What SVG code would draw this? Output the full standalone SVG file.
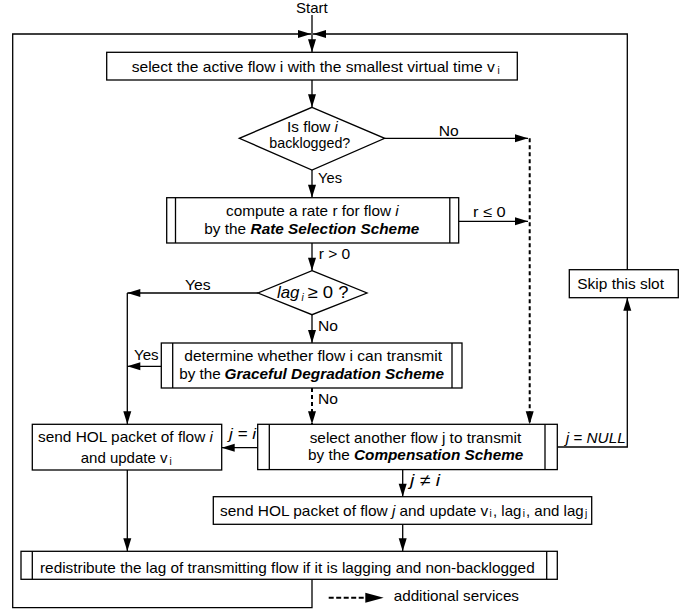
<svg xmlns="http://www.w3.org/2000/svg" width="696" height="610" viewBox="0 0 696 610">
<style>
.t{font-family:"Liberation Sans",Arial,Helvetica,sans-serif;font-size:15px;fill:#000}
.it{font-style:italic}
.bi{font-weight:bold;font-style:italic}
.sub{font-size:10px}
.box{fill:#fff;stroke:#000;stroke-width:1.3}
.ln{fill:none;stroke:#000;stroke-width:1.3}
.dash{fill:none;stroke:#000;stroke-width:2;stroke-dasharray:4 3}
</style>
<defs>
<marker id="ah" markerUnits="userSpaceOnUse" markerWidth="14" markerHeight="9" refX="13" refY="4" orient="auto" overflow="visible">
<path d="M0,0 L13,4 L0,8 z" fill="#000"/>
</marker>
</defs>
<rect width="696" height="610" fill="#fff"/>

<g id="connectors">
<path class="ln" d="M312,579.3 V607.7 H12.7 V34 H311" marker-end="url(#ah)"/>
<path class="ln" d="M627.3,269.7 V34 H313" marker-end="url(#ah)"/>
<path class="ln" d="M312,15 V52.3" marker-end="url(#ah)"/>
<path class="ln" d="M312,80 V107.3" marker-end="url(#ah)"/>
<path class="ln" d="M384.7,138.3 H528" marker-end="url(#ah)"/>
<path class="ln" d="M312,170 V197.7" marker-end="url(#ah)"/>
<path class="ln" d="M458.7,221.3 H528" marker-end="url(#ah)"/>
<path class="ln" d="M312,243 V270.7" marker-end="url(#ah)"/>
<path class="ln" d="M258,293 H127.3" marker-end="url(#ah)"/>
<path class="ln" d="M127.3,293 V424.3" marker-end="url(#ah)"/>
<path class="ln" d="M312,314.7 V343" marker-end="url(#ah)"/>
<path class="ln" d="M161.3,366.3 H127.3" marker-end="url(#ah)"/>
<path class="dash" d="M312,388 V424.3" marker-end="url(#ah)"/>
<path class="dash" d="M529.7,138.3 V424.3" marker-end="url(#ah)"/>
<path class="ln" d="M257.7,447.7 H221.7" marker-end="url(#ah)"/>
<path class="ln" d="M557.3,447 H627.3 V297.7" marker-end="url(#ah)"/>
<path class="ln" d="M402.7,469.3 V496.7" marker-end="url(#ah)"/>
<path class="ln" d="M402.7,524.3 V551.3" marker-end="url(#ah)"/>
<path class="ln" d="M127.3,470 V551.3" marker-end="url(#ah)"/>
<text class="t" x="438.7" y="135.5" textLength="20" lengthAdjust="spacingAndGlyphs">No</text>
<text class="t" x="318" y="183.3" textLength="24" lengthAdjust="spacingAndGlyphs">Yes</text>
<text class="t" x="473" y="217" textLength="32.7" lengthAdjust="spacingAndGlyphs">r ≤ 0</text>
<text class="t" x="318.7" y="259" textLength="31.6" lengthAdjust="spacingAndGlyphs">r &gt; 0</text>
<text class="t" x="185" y="290" textLength="25.7" lengthAdjust="spacingAndGlyphs">Yes</text>
<text class="t" x="318" y="331.3" textLength="20" lengthAdjust="spacingAndGlyphs">No</text>
<text class="t" x="134" y="359.7" textLength="24.7" lengthAdjust="spacingAndGlyphs">Yes</text>
<text class="t" x="318" y="404" textLength="20" lengthAdjust="spacingAndGlyphs">No</text>
<text class="t it" x="229" y="439.3" textLength="27" lengthAdjust="spacingAndGlyphs">j = i</text>
<text class="t it" x="565.7" y="442.7" textLength="60" lengthAdjust="spacingAndGlyphs">j = NULL</text>
<text class="t it" x="410" y="486" style="font-size:17px" textLength="30" lengthAdjust="spacingAndGlyphs">j ≠ i</text>
</g>

<g id="start">
<text class="t" x="296" y="13" textLength="31.7" lengthAdjust="spacingAndGlyphs">Start</text>
</g>

<g id="select-flow">
<rect class="box" x="106.7" y="52.3" width="410.6" height="27.7"/>
<text class="t" x="131.7" y="72" textLength="363" lengthAdjust="spacingAndGlyphs">select the active flow i with the smallest virtual time v</text>
<text class="t sub" x="497.5" y="74">i</text>
</g>

<g id="backlogged">
<polygon class="box" points="312,107.3 384.7,138.3 312,170 239.3,138.3"/>
<text class="t" x="287" y="131.7" textLength="43.4" lengthAdjust="spacingAndGlyphs">Is flow</text>
<text class="t it" x="334.6" y="131.7">i</text>
<text class="t" x="269.3" y="148" textLength="81" lengthAdjust="spacingAndGlyphs">backlogged?</text>
</g>

<g id="rate-selection">
<rect class="box" x="166.7" y="197.7" width="292" height="45.3"/>
<path class="ln" d="M175.5,197.7 V243 M449.8,197.7 V243"/>
<text class="t" x="226" y="216" textLength="165.1" lengthAdjust="spacingAndGlyphs">compute a rate r for flow</text>
<text class="t it" x="395.3" y="216">i</text>
<text class="t" x="204.3" y="233.7" textLength="41.8" lengthAdjust="spacingAndGlyphs">by the</text>
<text class="t bi" x="250.6" y="233.7" textLength="168.7" lengthAdjust="spacingAndGlyphs">Rate Selection Scheme</text>
</g>

<g id="lag-check">
<polygon class="box" points="312,270.7 367,293 312,314.7 258,293"/>
<text class="t it" x="277" y="298" style="font-size:17px" textLength="22.5" lengthAdjust="spacingAndGlyphs">lag</text>
<text class="t it sub" x="301.5" y="301">i</text>
<text class="t" x="307.5" y="298" style="font-size:17px" textLength="41" lengthAdjust="spacingAndGlyphs">≥ 0 ?</text>
</g>

<g id="graceful-degradation">
<rect class="box" x="161.3" y="343" width="300.7" height="45"/>
<path class="ln" d="M172.7,343 V388 M452,343 V388"/>
<text class="t" x="184.3" y="361" textLength="257.7" lengthAdjust="spacingAndGlyphs">determine whether flow i can transmit</text>
<text class="t" x="179.3" y="379" textLength="41.5" lengthAdjust="spacingAndGlyphs">by the</text>
<text class="t bi" x="224.5" y="379" textLength="219.5" lengthAdjust="spacingAndGlyphs">Graceful Degradation Scheme</text>
</g>

<g id="skip-slot">
<rect class="box" x="569.3" y="269.7" width="109" height="28"/>
<text class="t" x="577.3" y="289" textLength="86.7" lengthAdjust="spacingAndGlyphs">Skip this slot</text>
</g>

<g id="send-i">
<rect class="box" x="32.3" y="424.3" width="189.4" height="45.7"/>
<text class="t" x="38" y="442" textLength="167.3" lengthAdjust="spacingAndGlyphs">send HOL packet of flow</text>
<text class="t it" x="209.6" y="442">i</text>
<text class="t" x="80.7" y="463.3" textLength="86.8" lengthAdjust="spacingAndGlyphs">and update v</text>
<text class="t sub" x="169.5" y="465.3">i</text>
</g>

<g id="compensation">
<rect class="box" x="257.7" y="424.3" width="299.6" height="45.3"/>
<path class="ln" d="M269.3,424.3 V469.6 M545,424.3 V469.6"/>
<text class="t" x="309.7" y="442.7" textLength="211.6" lengthAdjust="spacingAndGlyphs">select another flow j to transmit</text>
<text class="t" x="308" y="460.3" textLength="41.7" lengthAdjust="spacingAndGlyphs">by the</text>
<text class="t bi" x="354" y="460.3" textLength="169.3" lengthAdjust="spacingAndGlyphs">Compensation Scheme</text>
</g>

<g id="send-j">
<rect class="box" x="213.3" y="496.7" width="378.4" height="27.6"/>
<text class="t" x="220" y="516" textLength="167.7" lengthAdjust="spacingAndGlyphs">send HOL packet of flow</text>
<text class="t it" x="391.9" y="516">j</text>
<text class="t" x="399.6" y="516" textLength="88.5" lengthAdjust="spacingAndGlyphs">and update v</text>
<text class="t sub" x="489.6" y="517">i</text>
<text class="t" x="493" y="516" textLength="28.4" lengthAdjust="spacingAndGlyphs">, lag</text>
<text class="t sub" x="522.8" y="517">i</text>
<text class="t" x="526" y="516" textLength="57.6" lengthAdjust="spacingAndGlyphs">, and lag</text>
<text class="t sub" x="585" y="517">j</text>
</g>

<g id="redistribute">
<rect class="box" x="21" y="551.3" width="536.3" height="28"/>
<path class="ln" d="M32.3,551.3 V579.3 M546.7,551.3 V579.3"/>
<text class="t" x="40" y="572.7" textLength="494.7" lengthAdjust="spacingAndGlyphs">redistribute the lag of transmitting flow if it is lagging and non-backlogged</text>
</g>

<g id="legend">
<path d="M328.7,597.7 H366" fill="none" stroke="#000" stroke-width="2" stroke-dasharray="5 2.5"/>
<polygon points="365.3,592.7 383.7,597.7 365.3,602.7" fill="#000"/>
<text class="t" x="393.7" y="601" textLength="125.3" lengthAdjust="spacingAndGlyphs">additional services</text>
</g>
</svg>
